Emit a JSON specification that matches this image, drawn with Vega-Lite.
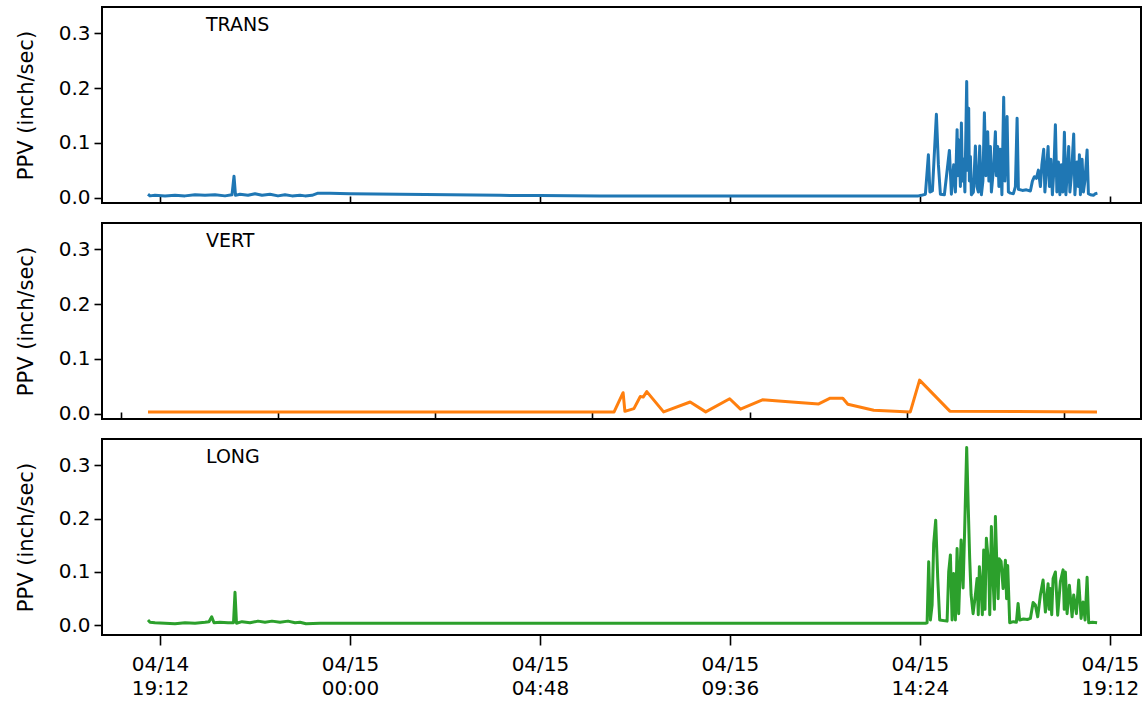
{
"$schema": "https://vega.github.io/schema/vega-lite/v6.json",
"padding": {"left": 14, "top": 6, "right": 1, "bottom": 2},
"config": {
  "font": "DejaVu Sans",
  "view": {"stroke": "black", "strokeWidth": 2},
  "concat": {"spacing": 13},
  "axis": {"grid": false, "domain": false, "labelFont": "DejaVu Sans", "labelFontSize": 20, "labelColor": "black", "tickColor": "black", "tickWidth": 1.6, "tickSize": 8, "labelPadding": 4, "titleFont": "DejaVu Sans", "titleFontSize": 21, "titleFontWeight": "normal", "titleColor": "black"},
  "title": {"font": "DejaVu Sans", "fontSize": 19, "fontWeight": "normal", "color": "black", "anchor": "start", "frame": "group", "dx": 104, "offset": -28, "baseline": "alphabetic"}
},
"datasets": {
  "trans": [
    {"t": "2024-04-14T18:53:49Z", "v": 0.006},
    {"t": "2024-04-14T18:56:50Z", "v": 0.003},
    {"t": "2024-04-14T19:04:25Z", "v": 0.004},
    {"t": "2024-04-14T19:19:35Z", "v": 0.003},
    {"t": "2024-04-14T19:34:44Z", "v": 0.004},
    {"t": "2024-04-14T19:49:54Z", "v": 0.003},
    {"t": "2024-04-14T20:05:04Z", "v": 0.005},
    {"t": "2024-04-14T20:20:13Z", "v": 0.004},
    {"t": "2024-04-14T20:35:23Z", "v": 0.005},
    {"t": "2024-04-14T20:50:32Z", "v": 0.003},
    {"t": "2024-04-14T21:01:09Z", "v": 0.005},
    {"t": "2024-04-14T21:04:11Z", "v": 0.039},
    {"t": "2024-04-14T21:06:28Z", "v": 0.004},
    {"t": "2024-04-14T21:13:17Z", "v": 0.006},
    {"t": "2024-04-14T21:25:25Z", "v": 0.004},
    {"t": "2024-04-14T21:36:01Z", "v": 0.007},
    {"t": "2024-04-14T21:46:38Z", "v": 0.004},
    {"t": "2024-04-14T21:58:46Z", "v": 0.006},
    {"t": "2024-04-14T22:10:53Z", "v": 0.003},
    {"t": "2024-04-14T22:21:30Z", "v": 0.005},
    {"t": "2024-04-14T22:32:07Z", "v": 0.003},
    {"t": "2024-04-14T22:44:14Z", "v": 0.004},
    {"t": "2024-04-14T22:51:49Z", "v": 0.003},
    {"t": "2024-04-14T23:02:26Z", "v": 0.004},
    {"t": "2024-04-14T23:11:32Z", "v": 0.008},
    {"t": "2024-04-14T23:29:43Z", "v": 0.008},
    {"t": "2024-04-15T00:00:00Z", "v": 0.007},
    {"t": "2024-04-15T01:15:50Z", "v": 0.006},
    {"t": "2024-04-15T02:31:38Z", "v": 0.005},
    {"t": "2024-04-15T03:47:26Z", "v": 0.004},
    {"t": "2024-04-15T04:48:05Z", "v": 0.0035},
    {"t": "2024-04-15T06:19:02Z", "v": 0.003},
    {"t": "2024-04-15T08:50:38Z", "v": 0.003},
    {"t": "2024-04-15T11:22:14Z", "v": 0.003},
    {"t": "2024-04-15T13:53:50Z", "v": 0.003},
    {"t": "2024-04-15T14:21:44Z", "v": 0.003},
    {"t": "2024-04-15T14:26:16Z", "v": 0.004},
    {"t": "2024-04-15T14:32:20Z", "v": 0.006},
    {"t": "2024-04-15T14:36:53Z", "v": 0.078},
    {"t": "2024-04-15T14:39:10Z", "v": 0.01},
    {"t": "2024-04-15T14:42:57Z", "v": 0.012},
    {"t": "2024-04-15T14:49:01Z", "v": 0.152},
    {"t": "2024-04-15T14:52:03Z", "v": 0.06},
    {"t": "2024-04-15T14:55:05Z", "v": 0.006},
    {"t": "2024-04-15T15:01:08Z", "v": 0.005},
    {"t": "2024-04-15T15:08:43Z", "v": 0.086},
    {"t": "2024-04-15T15:11:45Z", "v": 0.006},
    {"t": "2024-04-15T15:15:14Z", "v": 0.06},
    {"t": "2024-04-15T15:17:49Z", "v": 0.01},
    {"t": "2024-04-15T15:20:24Z", "v": 0.124},
    {"t": "2024-04-15T15:21:37Z", "v": 0.04},
    {"t": "2024-04-15T15:23:07Z", "v": 0.105},
    {"t": "2024-04-15T15:25:24Z", "v": 0.02},
    {"t": "2024-04-15T15:26:55Z", "v": 0.136},
    {"t": "2024-04-15T15:28:26Z", "v": 0.03},
    {"t": "2024-04-15T15:30:24Z", "v": 0.07},
    {"t": "2024-04-15T15:32:13Z", "v": 0.01},
    {"t": "2024-04-15T15:34:57Z", "v": 0.212},
    {"t": "2024-04-15T15:36:28Z", "v": 0.05},
    {"t": "2024-04-15T15:37:59Z", "v": 0.163},
    {"t": "2024-04-15T15:39:02Z", "v": 0.03},
    {"t": "2024-04-15T15:40:34Z", "v": 0.075},
    {"t": "2024-04-15T15:42:04Z", "v": 0.005},
    {"t": "2024-04-15T15:45:07Z", "v": 0.01},
    {"t": "2024-04-15T15:48:08Z", "v": 0.094},
    {"t": "2024-04-15T15:50:25Z", "v": 0.02},
    {"t": "2024-04-15T15:52:41Z", "v": 0.01},
    {"t": "2024-04-15T15:54:40Z", "v": 0.094},
    {"t": "2024-04-15T15:57:14Z", "v": 0.005},
    {"t": "2024-04-15T15:59:31Z", "v": 0.03},
    {"t": "2024-04-15T16:01:47Z", "v": 0.155},
    {"t": "2024-04-15T16:04:04Z", "v": 0.04},
    {"t": "2024-04-15T16:06:47Z", "v": 0.12},
    {"t": "2024-04-15T16:08:36Z", "v": 0.03},
    {"t": "2024-04-15T16:10:53Z", "v": 0.093},
    {"t": "2024-04-15T16:12:23Z", "v": 0.01},
    {"t": "2024-04-15T16:15:26Z", "v": 0.05},
    {"t": "2024-04-15T16:18:28Z", "v": 0.12},
    {"t": "2024-04-15T16:19:58Z", "v": 0.04},
    {"t": "2024-04-15T16:21:56Z", "v": 0.093},
    {"t": "2024-04-15T16:23:46Z", "v": 0.02},
    {"t": "2024-04-15T16:26:02Z", "v": 0.088},
    {"t": "2024-04-15T16:28:19Z", "v": 0.005},
    {"t": "2024-04-15T16:31:02Z", "v": 0.183},
    {"t": "2024-04-15T16:32:52Z", "v": 0.03},
    {"t": "2024-04-15T16:36:12Z", "v": 0.148},
    {"t": "2024-04-15T16:38:10Z", "v": 0.01},
    {"t": "2024-04-15T16:41:12Z", "v": 0.008},
    {"t": "2024-04-15T16:45:45Z", "v": 0.007},
    {"t": "2024-04-15T16:48:47Z", "v": 0.02},
    {"t": "2024-04-15T16:51:22Z", "v": 0.145},
    {"t": "2024-04-15T16:53:20Z", "v": 0.015},
    {"t": "2024-04-15T16:59:23Z", "v": 0.013},
    {"t": "2024-04-15T17:05:27Z", "v": 0.014},
    {"t": "2024-04-15T17:11:31Z", "v": 0.012},
    {"t": "2024-04-15T17:14:33Z", "v": 0.03},
    {"t": "2024-04-15T17:17:35Z", "v": 0.038},
    {"t": "2024-04-15T17:20:37Z", "v": 0.035},
    {"t": "2024-04-15T17:23:38Z", "v": 0.05},
    {"t": "2024-04-15T17:26:41Z", "v": 0.02},
    {"t": "2024-04-15T17:28:57Z", "v": 0.06},
    {"t": "2024-04-15T17:31:41Z", "v": 0.088},
    {"t": "2024-04-15T17:33:30Z", "v": 0.01},
    {"t": "2024-04-15T17:35:46Z", "v": 0.05},
    {"t": "2024-04-15T17:38:21Z", "v": 0.093},
    {"t": "2024-04-15T17:40:19Z", "v": 0.02},
    {"t": "2024-04-15T17:42:36Z", "v": 0.07},
    {"t": "2024-04-15T17:44:52Z", "v": 0.005},
    {"t": "2024-04-15T17:47:08Z", "v": 0.05},
    {"t": "2024-04-15T17:49:25Z", "v": 0.133},
    {"t": "2024-04-15T17:51:41Z", "v": 0.01},
    {"t": "2024-04-15T17:53:58Z", "v": 0.065},
    {"t": "2024-04-15T17:56:14Z", "v": 0.005},
    {"t": "2024-04-15T17:58:31Z", "v": 0.06},
    {"t": "2024-04-15T18:00:47Z", "v": 0.01},
    {"t": "2024-04-15T18:03:04Z", "v": 0.119},
    {"t": "2024-04-15T18:05:20Z", "v": 0.005},
    {"t": "2024-04-15T18:07:37Z", "v": 0.05},
    {"t": "2024-04-15T18:09:35Z", "v": 0.093},
    {"t": "2024-04-15T18:11:24Z", "v": 0.01},
    {"t": "2024-04-15T18:13:40Z", "v": 0.04},
    {"t": "2024-04-15T18:17:10Z", "v": 0.116},
    {"t": "2024-04-15T18:18:59Z", "v": 0.005},
    {"t": "2024-04-15T18:22:19Z", "v": 0.065},
    {"t": "2024-04-15T18:24:17Z", "v": 0.02},
    {"t": "2024-04-15T18:25:48Z", "v": 0.078},
    {"t": "2024-04-15T18:27:19Z", "v": 0.005},
    {"t": "2024-04-15T18:29:54Z", "v": 0.07},
    {"t": "2024-04-15T18:31:52Z", "v": 0.01},
    {"t": "2024-04-15T18:34:08Z", "v": 0.03},
    {"t": "2024-04-15T18:37:29Z", "v": 0.087},
    {"t": "2024-04-15T18:39:27Z", "v": 0.007},
    {"t": "2024-04-15T18:42:29Z", "v": 0.005},
    {"t": "2024-04-15T18:47:02Z", "v": 0.004},
    {"t": "2024-04-15T18:50:04Z", "v": 0.007},
    {"t": "2024-04-15T18:53:05Z", "v": 0.008}
  ],
  "vert": [
    {"t": "2024-04-14T15:13:29Z", "v": 0.003},
    {"t": "2024-04-15T05:27:36Z", "v": 0.003},
    {"t": "2024-04-15T05:44:06Z", "v": 0.038},
    {"t": "2024-04-15T05:47:24Z", "v": 0.004},
    {"t": "2024-04-15T06:03:54Z", "v": 0.009},
    {"t": "2024-04-15T06:15:36Z", "v": 0.031},
    {"t": "2024-04-15T06:20:54Z", "v": 0.030},
    {"t": "2024-04-15T06:27:30Z", "v": 0.040},
    {"t": "2024-04-15T06:58:18Z", "v": 0.003},
    {"t": "2024-04-15T07:47:00Z", "v": 0.021},
    {"t": "2024-04-15T08:15:30Z", "v": 0.003},
    {"t": "2024-04-15T08:59:24Z", "v": 0.027},
    {"t": "2024-04-15T09:19:12Z", "v": 0.008},
    {"t": "2024-04-15T09:59:24Z", "v": 0.025},
    {"t": "2024-04-15T10:53:12Z", "v": 0.021},
    {"t": "2024-04-15T11:42:30Z", "v": 0.0175},
    {"t": "2024-04-15T12:03:36Z", "v": 0.028},
    {"t": "2024-04-15T12:26:42Z", "v": 0.028},
    {"t": "2024-04-15T12:35:54Z", "v": 0.017},
    {"t": "2024-04-15T13:23:18Z", "v": 0.006},
    {"t": "2024-04-15T14:30:24Z", "v": 0.003},
    {"t": "2024-04-15T14:47:24Z", "v": 0.061},
    {"t": "2024-04-15T15:42:48Z", "v": 0.0043},
    {"t": "2024-04-15T20:12:30Z", "v": 0.003}
  ],
  "long": [
    {"t": "2024-04-14T18:53:49Z", "v": 0.010},
    {"t": "2024-04-14T18:56:50Z", "v": 0.006},
    {"t": "2024-04-14T19:04:25Z", "v": 0.005},
    {"t": "2024-04-14T19:19:35Z", "v": 0.004},
    {"t": "2024-04-14T19:34:44Z", "v": 0.003},
    {"t": "2024-04-14T19:49:54Z", "v": 0.005},
    {"t": "2024-04-14T20:05:04Z", "v": 0.004},
    {"t": "2024-04-14T20:20:13Z", "v": 0.006},
    {"t": "2024-04-14T20:26:17Z", "v": 0.007},
    {"t": "2024-04-14T20:30:23Z", "v": 0.016},
    {"t": "2024-04-14T20:33:52Z", "v": 0.005},
    {"t": "2024-04-14T20:42:58Z", "v": 0.006},
    {"t": "2024-04-14T20:55:05Z", "v": 0.005},
    {"t": "2024-04-14T21:03:26Z", "v": 0.005},
    {"t": "2024-04-14T21:05:42Z", "v": 0.062},
    {"t": "2024-04-14T21:07:58Z", "v": 0.004},
    {"t": "2024-04-14T21:16:19Z", "v": 0.007},
    {"t": "2024-04-14T21:28:26Z", "v": 0.005},
    {"t": "2024-04-14T21:40:34Z", "v": 0.008},
    {"t": "2024-04-14T21:51:11Z", "v": 0.006},
    {"t": "2024-04-14T22:01:47Z", "v": 0.008},
    {"t": "2024-04-14T22:13:55Z", "v": 0.006},
    {"t": "2024-04-14T22:26:03Z", "v": 0.008},
    {"t": "2024-04-14T22:36:40Z", "v": 0.005},
    {"t": "2024-04-14T22:44:14Z", "v": 0.006},
    {"t": "2024-04-14T22:53:20Z", "v": 0.003},
    {"t": "2024-04-14T23:14:34Z", "v": 0.004},
    {"t": "2024-04-15T00:00:00Z", "v": 0.004},
    {"t": "2024-04-15T03:47:26Z", "v": 0.004},
    {"t": "2024-04-15T08:50:38Z", "v": 0.004},
    {"t": "2024-04-15T13:53:50Z", "v": 0.004},
    {"t": "2024-04-15T14:32:20Z", "v": 0.004},
    {"t": "2024-04-15T14:34:55Z", "v": 0.005},
    {"t": "2024-04-15T14:37:20Z", "v": 0.119},
    {"t": "2024-04-15T14:39:55Z", "v": 0.010},
    {"t": "2024-04-15T14:42:30Z", "v": 0.038},
    {"t": "2024-04-15T14:44:55Z", "v": 0.153},
    {"t": "2024-04-15T14:47:57Z", "v": 0.197},
    {"t": "2024-04-15T14:50:59Z", "v": 0.090},
    {"t": "2024-04-15T14:54:01Z", "v": 0.010},
    {"t": "2024-04-15T15:05:14Z", "v": 0.008},
    {"t": "2024-04-15T15:07:40Z", "v": 0.100},
    {"t": "2024-04-15T15:10:14Z", "v": 0.132},
    {"t": "2024-04-15T15:12:49Z", "v": 0.010},
    {"t": "2024-04-15T15:15:14Z", "v": 0.097},
    {"t": "2024-04-15T15:17:49Z", "v": 0.010},
    {"t": "2024-04-15T15:20:24Z", "v": 0.144},
    {"t": "2024-04-15T15:22:49Z", "v": 0.022},
    {"t": "2024-04-15T15:26:28Z", "v": 0.160},
    {"t": "2024-04-15T15:29:29Z", "v": 0.070},
    {"t": "2024-04-15T15:31:55Z", "v": 0.182},
    {"t": "2024-04-15T15:34:57Z", "v": 0.333},
    {"t": "2024-04-15T15:37:04Z", "v": 0.232},
    {"t": "2024-04-15T15:39:30Z", "v": 0.125},
    {"t": "2024-04-15T15:41:37Z", "v": 0.057},
    {"t": "2024-04-15T15:44:39Z", "v": 0.022},
    {"t": "2024-04-15T15:48:08Z", "v": 0.057},
    {"t": "2024-04-15T15:50:43Z", "v": 0.088},
    {"t": "2024-04-15T15:52:30Z", "v": 0.020},
    {"t": "2024-04-15T15:54:12Z", "v": 0.110},
    {"t": "2024-04-15T15:56:47Z", "v": 0.069},
    {"t": "2024-04-15T15:58:40Z", "v": 0.020},
    {"t": "2024-04-15T16:00:43Z", "v": 0.141},
    {"t": "2024-04-15T16:02:41Z", "v": 0.030},
    {"t": "2024-04-15T16:04:49Z", "v": 0.163},
    {"t": "2024-04-15T16:08:18Z", "v": 0.113},
    {"t": "2024-04-15T16:09:54Z", "v": 0.020},
    {"t": "2024-04-15T16:12:23Z", "v": 0.185},
    {"t": "2024-04-15T16:14:58Z", "v": 0.082},
    {"t": "2024-04-15T16:16:58Z", "v": 0.030},
    {"t": "2024-04-15T16:18:28Z", "v": 0.204},
    {"t": "2024-04-15T16:21:02Z", "v": 0.100},
    {"t": "2024-04-15T16:22:36Z", "v": 0.050},
    {"t": "2024-04-15T16:24:04Z", "v": 0.125},
    {"t": "2024-04-15T16:27:06Z", "v": 0.120},
    {"t": "2024-04-15T16:30:08Z", "v": 0.069},
    {"t": "2024-04-15T16:33:37Z", "v": 0.122},
    {"t": "2024-04-15T16:35:26Z", "v": 0.050},
    {"t": "2024-04-15T16:37:06Z", "v": 0.112},
    {"t": "2024-04-15T16:40:08Z", "v": 0.005},
    {"t": "2024-04-15T16:45:45Z", "v": 0.007},
    {"t": "2024-04-15T16:50:18Z", "v": 0.006},
    {"t": "2024-04-15T16:52:52Z", "v": 0.041},
    {"t": "2024-04-15T16:55:18Z", "v": 0.010},
    {"t": "2024-04-15T17:00:55Z", "v": 0.012},
    {"t": "2024-04-15T17:06:58Z", "v": 0.011},
    {"t": "2024-04-15T17:11:31Z", "v": 0.013},
    {"t": "2024-04-15T17:15:37Z", "v": 0.043},
    {"t": "2024-04-15T17:19:06Z", "v": 0.038},
    {"t": "2024-04-15T17:22:35Z", "v": 0.016},
    {"t": "2024-04-15T17:26:41Z", "v": 0.057},
    {"t": "2024-04-15T17:30:46Z", "v": 0.085},
    {"t": "2024-04-15T17:34:16Z", "v": 0.025},
    {"t": "2024-04-15T17:38:21Z", "v": 0.078},
    {"t": "2024-04-15T17:40:00Z", "v": 0.030},
    {"t": "2024-04-15T17:41:50Z", "v": 0.069},
    {"t": "2024-04-15T17:43:50Z", "v": 0.020},
    {"t": "2024-04-15T17:45:56Z", "v": 0.088},
    {"t": "2024-04-15T17:49:25Z", "v": 0.100},
    {"t": "2024-04-15T17:52:54Z", "v": 0.019},
    {"t": "2024-04-15T17:57:00Z", "v": 0.082},
    {"t": "2024-04-15T18:01:05Z", "v": 0.104},
    {"t": "2024-04-15T18:02:50Z", "v": 0.030},
    {"t": "2024-04-15T18:04:35Z", "v": 0.100},
    {"t": "2024-04-15T18:07:10Z", "v": 0.022},
    {"t": "2024-04-15T18:10:38Z", "v": 0.075},
    {"t": "2024-04-15T18:14:44Z", "v": 0.016},
    {"t": "2024-04-15T18:17:10Z", "v": 0.057},
    {"t": "2024-04-15T18:21:15Z", "v": 0.022},
    {"t": "2024-04-15T18:24:44Z", "v": 0.085},
    {"t": "2024-04-15T18:28:23Z", "v": 0.013},
    {"t": "2024-04-15T18:31:25Z", "v": 0.044},
    {"t": "2024-04-15T18:34:26Z", "v": 0.010},
    {"t": "2024-04-15T18:37:29Z", "v": 0.090},
    {"t": "2024-04-15T18:39:54Z", "v": 0.005},
    {"t": "2024-04-15T18:45:31Z", "v": 0.006},
    {"t": "2024-04-15T18:52:38Z", "v": 0.005}
  ]
},
"vconcat": [
  {
    "width": 1039, "height": 196,
    "data": {"name": "trans"},
    "title": {"text": "TRANS"},
    "mark": {"type": "line", "color": "#1f77b4", "strokeWidth": 3, "strokeJoin": "round"},
    "encoding": {
      "x": {"field": "t", "type": "temporal",
        "scale": {"type": "utc", "nice": false, "domain": [{"year": 2024, "month": 4, "date": 14, "hours": 17, "minutes": 44, "seconds": 4, "utc": true}, {"year": 2024, "month": 4, "date": 15, "hours": 19, "minutes": 59, "seconds": 12, "utc": true}]},
        "axis": {"title": null, "labels": false, "tickSize": -7,
          "values": [{"year": 2024, "month": 4, "date": 14, "hours": 19, "minutes": 12, "utc": true}, {"year": 2024, "month": 4, "date": 15, "hours": 0, "minutes": 0, "utc": true}, {"year": 2024, "month": 4, "date": 15, "hours": 4, "minutes": 48, "utc": true}, {"year": 2024, "month": 4, "date": 15, "hours": 9, "minutes": 36, "utc": true}, {"year": 2024, "month": 4, "date": 15, "hours": 14, "minutes": 24, "utc": true}, {"year": 2024, "month": 4, "date": 15, "hours": 19, "minutes": 12, "utc": true}]}},
      "y": {"field": "v", "type": "quantitative",
        "scale": {"domain": [-0.01, 0.348], "nice": false, "zero": false},
        "axis": {"values": [0, 0.1, 0.2, 0.3], "format": ".1f", "title": "PPV (inch/sec)", "titlePadding": 22}}
    }
  },
  {
    "width": 1039, "height": 196,
    "data": {"name": "vert"},
    "title": {"text": "VERT"},
    "mark": {"type": "line", "color": "#ff7f0e", "strokeWidth": 3, "strokeJoin": "round"},
    "encoding": {
      "x": {"field": "t", "type": "temporal",
        "scale": {"type": "utc", "nice": false, "domain": [{"year": 2024, "month": 4, "date": 14, "hours": 13, "minutes": 49, "seconds": 11, "utc": true}, {"year": 2024, "month": 4, "date": 15, "hours": 21, "minutes": 33, "seconds": 9, "utc": true}]},
        "axis": {"title": null, "labels": false, "tickSize": -7,
          "values": [{"year": 2024, "month": 4, "date": 14, "hours": 14, "minutes": 24, "utc": true}, {"year": 2024, "month": 4, "date": 14, "hours": 19, "minutes": 12, "utc": true}, {"year": 2024, "month": 4, "date": 15, "hours": 0, "minutes": 0, "utc": true}, {"year": 2024, "month": 4, "date": 15, "hours": 4, "minutes": 48, "utc": true}, {"year": 2024, "month": 4, "date": 15, "hours": 9, "minutes": 36, "utc": true}, {"year": 2024, "month": 4, "date": 15, "hours": 14, "minutes": 24, "utc": true}, {"year": 2024, "month": 4, "date": 15, "hours": 19, "minutes": 12, "utc": true}]}},
      "y": {"field": "v", "type": "quantitative",
        "scale": {"domain": [-0.01, 0.348], "nice": false, "zero": false},
        "axis": {"values": [0, 0.1, 0.2, 0.3], "format": ".1f", "title": "PPV (inch/sec)", "titlePadding": 22}}
    }
  },
  {
    "width": 1039, "height": 196,
    "data": {"name": "long"},
    "title": {"text": "LONG"},
    "mark": {"type": "line", "color": "#2ca02c", "strokeWidth": 3, "strokeJoin": "round"},
    "encoding": {
      "x": {"field": "t", "type": "temporal",
        "scale": {"type": "utc", "nice": false, "domain": [{"year": 2024, "month": 4, "date": 14, "hours": 17, "minutes": 44, "seconds": 4, "utc": true}, {"year": 2024, "month": 4, "date": 15, "hours": 19, "minutes": 59, "seconds": 12, "utc": true}]},
        "axis": {"title": null, "tickSize": 10, "labelPadding": 9, "labelLineHeight": 24, "labelExpr": "[utcFormat(datum.value, '%m/%d'), utcFormat(datum.value, '%H:%M')]",
          "values": [{"year": 2024, "month": 4, "date": 14, "hours": 19, "minutes": 12, "utc": true}, {"year": 2024, "month": 4, "date": 15, "hours": 0, "minutes": 0, "utc": true}, {"year": 2024, "month": 4, "date": 15, "hours": 4, "minutes": 48, "utc": true}, {"year": 2024, "month": 4, "date": 15, "hours": 9, "minutes": 36, "utc": true}, {"year": 2024, "month": 4, "date": 15, "hours": 14, "minutes": 24, "utc": true}, {"year": 2024, "month": 4, "date": 15, "hours": 19, "minutes": 12, "utc": true}]}},
      "y": {"field": "v", "type": "quantitative",
        "scale": {"domain": [-0.018, 0.349], "nice": false, "zero": false},
        "axis": {"values": [0, 0.1, 0.2, 0.3], "format": ".1f", "title": "PPV (inch/sec)", "titlePadding": 22}}
    }
  }
]
}
